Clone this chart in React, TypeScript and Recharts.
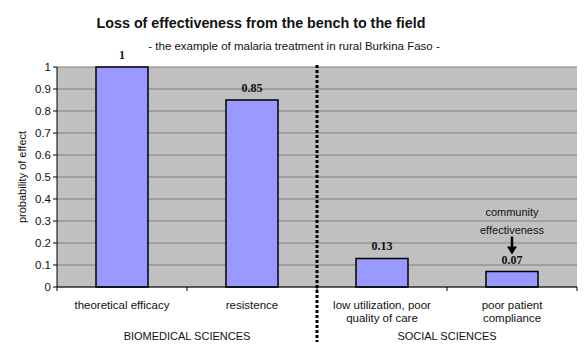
import { Bar, BarChart, CartesianGrid, LabelList, XAxis, YAxis } from "recharts"

// categories, values and labels
const categories = ["theoretical efficacy", "resistence", "low utilization, poor quality of care", "poor patient compliance"]
const tickLines = [["theoretical efficacy"], ["resistence"], ["low utilization, poor", "quality of care"], ["poor patient", "compliance"]]
const values = [1, 0.85, 0.13, 0.07]
const yTicks = [0, 0.1, 0.2, 0.3, 0.4, 0.5, 0.6, 0.7, 0.8, 0.9, 1]
const groups = [
  { label: "BIOMEDICAL SCIENCES", from: 0, to: 1 },
  { label: "SOCIAL SCIENCES", from: 2, to: 3 },
]
const annotationLines = ["community", "effectiveness"]
const annotatedIndex = 3

const SANS = "'Liberation Sans', Arial, sans-serif"
const SERIF = "'Liberation Serif', 'Times New Roman', serif"

const data = categories.map((name, i) => ({ name, value: values[i] }))

const CategoryTick = (props: any) => {
  const { x, y, payload, index } = props
  const half = payload?.offset || 65
  const left = x - half
  const group = groups.find((g) => g.from === index)
  const isLast = index === categories.length - 1
  // the divider sits where the second group starts
  const divider = groups.length > 1 && index === groups[1].from
  return (
    <g>
      <line x1={left} x2={left} y1={y} y2={y + 4} stroke="#000" />
      {isLast && <line x1={x + half} x2={x + half} y1={y} y2={y + 4} stroke="#000" />}
      {tickLines[index].map((line, i) => (
        <text key={i} x={x} y={y + 22 + i * 13} textAnchor="middle" fontSize={11.5} fontFamily={SANS} fill="#111">
          {line}
        </text>
      ))}
      {group && (
        <text
          x={left + (group.to - group.from + 1) * half}
          y={y + 53}
          textAnchor="middle"
          fontSize={11}
          fontFamily={SANS}
          fill="#111"
        >
          {group.label}
        </text>
      )}
      {divider && (
        <line x1={left} x2={left} y1={y - 222} y2={y + 55} stroke="#000" strokeWidth={3} strokeDasharray="3 2" />
      )}
    </g>
  )
}

const ValueLabel = (props: any) => {
  const { x, y, width, value, index } = props
  const cx = x + width / 2
  return (
    <g>
      <text x={cx} y={y - 8} textAnchor="middle" fontSize={12} fontWeight="bold" fontFamily={SERIF} fill="#111">
        {value}
      </text>
      {index === annotatedIndex && (
        <g>
          {annotationLines.map((line, i) => (
            <text key={i} x={cx} y={y - 56 + i * 18} textAnchor="middle" fontSize={11} fontFamily={SANS} fill="#111">
              {line}
            </text>
          ))}
          <line x1={cx} x2={cx} y1={y - 35} y2={y - 24} stroke="#000" strokeWidth={2.5} />
          <path d={`M ${cx - 5} ${y - 25} L ${cx + 5} ${y - 25} L ${cx} ${y - 17} Z`} fill="#000" />
        </g>
      )}
    </g>
  )
}

const YLabel = (props: any) => {
  const vb = props.viewBox
  const cx = vb.x + 22
  const cy = vb.y + vb.height / 2
  return (
    <text x={cx} y={cy} transform={`rotate(-90, ${cx}, ${cy})`} textAnchor="middle" dominantBaseline="central" fontSize={11} fontFamily={SANS} fill="#111">
      probability of effect
    </text>
  )
}

export default function App() {
  return (
    <div style={{ position: "absolute", left: 0, top: 0, width: 585, height: 358, background: "#fff", fontFamily: SANS }}>
      <div style={{ position: "absolute", left: 0, top: 15, width: 522, textAlign: "center", fontSize: 14.3, fontWeight: "bold", color: "#111" }}>
        Loss of effectiveness from the bench to the field
      </div>
      <div style={{ position: "absolute", left: 0, top: 40, width: 588, textAlign: "center", fontSize: 11.5, color: "#111" }}>
        - the example of malaria treatment in rural Burkina Faso -
      </div>
      <BarChart width={585} height={358} data={data} margin={{ top: 67, right: 8, left: 0, bottom: 0 }} barCategoryGap="30%">
        <CartesianGrid vertical={false} fill="#c0c0c0" stroke="#808080" fillOpacity={1} />
        <XAxis
          dataKey="name"
          interval={0}
          height={71}
          tickLine={false}
          tickSize={0}
          tickMargin={0}
          axisLine={{ stroke: "#000" }}
          tick={<CategoryTick />}
        />
        <YAxis
          width={57}
          domain={[0, 1]}
          ticks={yTicks}
          interval={0}
          tickSize={4}
          tickLine={{ stroke: "#000" }}
          axisLine={{ stroke: "#000" }}
          tick={{ fontSize: 11.5, fontFamily: SANS, fill: "#111" }}
          label={<YLabel />}
        />
        <Bar dataKey="value" fill="#9999ff" stroke="#000" strokeWidth={1.5} isAnimationActive={false}>
          <LabelList dataKey="value" content={<ValueLabel />} />
        </Bar>
      </BarChart>
    </div>
  )
}
